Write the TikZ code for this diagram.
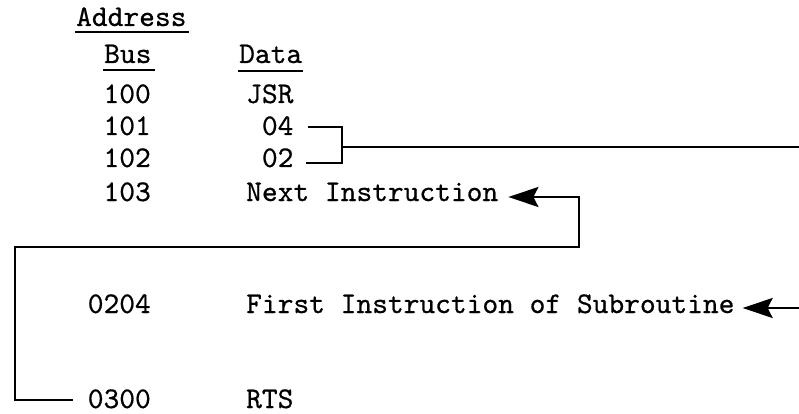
\documentclass[tikz,border=0pt]{standalone}
\usepackage{fontspec}
\setmonofont{lmmono10-regular}[Extension=.otf, FakeBold=0.6]
\usepackage{tikz}
\usetikzlibrary{arrows.meta}
\tikzstyle{txt} = [inner sep=0pt, font=\fontsize{30}{32}\selectfont\ttfamily]
\tikzstyle{num} = [txt, anchor=base east]
\tikzstyle{cell} = [txt, anchor=base west]
\tikzstyle{uline} = [line width=2pt]
\tikzstyle{wire} = [line width=2.2pt]
\tikzstyle{arrow} = [wire, -{Stealth[length=30pt,width=20pt,inset=5pt]}]
\begin{document}
\begin{tikzpicture}[x=1pt,y=-1pt]
\useasboundingbox (0,0) rectangle (799,414);
\clip (0,0) rectangle (799,414);

\node(addr)[cell] at (76,26) {Address};
\node(bus)[cell] at (104,63) {Bus};
\node(data)[cell] at (239,63) {Data};

\draw[uline] ([shift={(-1pt,-6.5pt)}]addr.base west) -- ([shift={(2pt,-6.5pt)}]addr.base east);
\draw[uline] ([shift={(-1pt,-7pt)}]bus.base west) -- ([shift={(3pt,-7pt)}]bus.base east);
\draw[uline] ([shift={(-1pt,-8pt)}]data.base west) -- ([shift={(1pt,-8pt)}]data.base east);

\node(a100)[num] at (151,103) {100};
\node(a101)[num] at (151,135) {101};
\node(a102)[num] at (151,167) {102};
\node(a103)[num] at (151,201) {103};
\node(a204)[num] at (151,313) {0204};
\node(a300)[num] at (151,408) {0300};

\node(jsr)[cell] at (246,103) {JSR};
\node(d04)[cell] at (261.75,135) {04};
\node(d02)[cell] at (261.75,167) {02};
\node(next)[cell] at (246,201) {Next Instruction};
\node(first)[cell] at (246,313) {First Instruction of Subroutine};
\node(rts)[cell] at (246,408) {RTS};

\coordinate(join) at (342,147);
\coordinate(edge) at (806,0);
\coordinate(side) at (15,247);
\coordinate(turn) at (579,247);

% jump to subroutine
\draw[wire] ([shift={(14pt,8pt)}]d04.base east) -| (join) |- ([shift={(12pt,4pt)}]d02.base east);
\draw[arrow] (join) -- (join -| edge) |- ([shift={(8pt,5pt)}]first.base east);

% return
\draw[arrow] ([shift={(-15pt,8pt)}]a300.base west) -| (side) -- (turn) |- ([shift={(10pt,4pt)}]next.base east);
\end{tikzpicture}
\end{document}
